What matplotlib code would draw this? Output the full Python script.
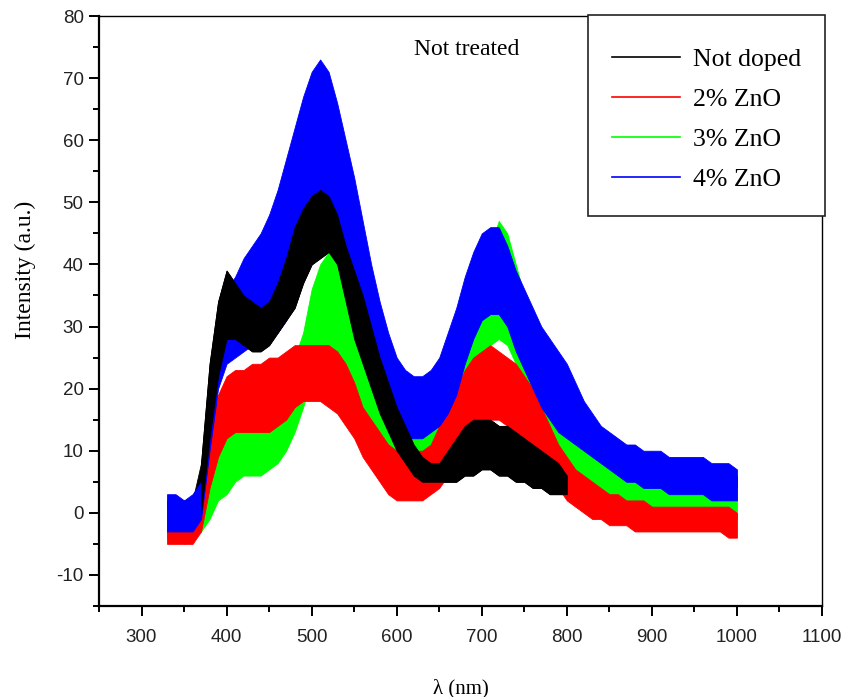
import numpy as np
import matplotlib.pyplot as plt
from matplotlib.patches import Rectangle
from matplotlib.ticker import MultipleLocator

# wavelength grid (nm) and visible band (low / high) of each noisy spectrum
wl = np.arange(330, 1001, 10)

black_lo = [-4, -4, -4, -4, 0, 12, 22, 28, 28, 27,
            26, 26, 27, 29, 31, 33, 37, 40, 41, 42,
            40, 34, 28, 24, 20, 16, 13, 10, 8, 6,
            5, 5, 5, 5, 5, 6, 6, 7, 7, 6,
            6, 5, 5, 4, 4, 3, 3, 3, 2, 2,
            2, 2, 2, 2, 2, 2, 2, 2, 2, 2,
            2, 2, 2, 2, 2, 2, 2, 2]
black_hi = [2, 2, 2, 2, 8, 24, 34, 39, 37, 35,
            34, 33, 34, 37, 41, 46, 49, 51, 52, 51,
            48, 43, 39, 35, 30, 25, 21, 17, 14, 11,
            9, 8, 8, 10, 12, 14, 15, 15, 15, 14,
            14, 13, 12, 11, 10, 9, 8, 6, 6, 6,
            6, 6, 6, 6, 6, 6, 6, 6, 6, 6,
            6, 6, 6, 6, 6, 6, 6, 6]

red_lo = [-5, -5, -5, -5, -3, 4, 9, 12, 13, 13,
          13, 13, 13, 14, 15, 17, 18, 18, 18, 17,
          16, 14, 12, 9, 7, 5, 3, 2, 2, 2,
          2, 3, 4, 6, 9, 12, 14, 15, 15, 15,
          14, 13, 12, 10, 8, 6, 4, 2, 1, 0,
          -1, -1, -2, -2, -2, -3, -3, -3, -3, -3,
          -3, -3, -3, -3, -3, -3, -4, -4]
red_hi = [1, 1, 0, 1, 4, 13, 19, 22, 23, 23,
          24, 24, 25, 25, 26, 27, 27, 27, 27, 27,
          26, 24, 21, 17, 15, 13, 11, 10, 10, 10,
          10, 11, 14, 17, 20, 23, 25, 26, 27, 26,
          25, 24, 22, 20, 17, 14, 11, 9, 7, 6,
          5, 4, 3, 3, 2, 2, 2, 1, 1, 1,
          1, 1, 1, 1, 1, 1, 1, 0]

green_lo = [-4, -4, -5, -4, -3, -1, 2, 3, 5, 6,
            6, 6, 7, 8, 10, 13, 17, 22, 24, 25,
            24, 21, 17, 15, 13, 11, 9, 8, 7, 7,
            7, 8, 9, 12, 16, 20, 23, 25, 27, 28,
            27, 24, 21, 18, 15, 12, 10, 8, 7, 5,
            4, 3, 2, 2, 1, 1, 1, 0, 0, 0,
            0, -1, -1, -1, -1, -1, -1, -1]
green_hi = [1, 1, 1, 1, 3, 6, 11, 15, 16, 17,
            18, 18, 18, 20, 22, 25, 29, 36, 40, 42,
            41, 37, 32, 28, 24, 20, 17, 15, 14, 13,
            13, 14, 16, 20, 25, 30, 34, 38, 43, 47,
            45, 40, 35, 30, 26, 22, 18, 15, 13, 11,
            9, 8, 7, 7, 6, 6, 6, 5, 5, 5,
            5, 5, 4, 4, 4, 4, 4, 4]

blue_lo = [-3, -3, -3, -3, -1, 10, 20, 24, 25, 26,
           27, 28, 28, 29, 31, 34, 38, 42, 45, 44,
           40, 36, 32, 28, 23, 18, 15, 13, 12, 12,
           12, 13, 14, 16, 19, 24, 28, 31, 32, 32,
           30, 26, 23, 20, 17, 15, 13, 12, 11, 10,
           9, 8, 7, 6, 5, 5, 4, 4, 4, 3,
           3, 3, 3, 3, 2, 2, 2, 2]
blue_hi = [3, 3, 2, 3, 5, 22, 32, 36, 38, 41,
           43, 45, 48, 52, 57, 62, 67, 71, 73, 71,
           66, 60, 54, 47, 40, 34, 29, 25, 23, 22,
           22, 23, 25, 29, 33, 38, 42, 45, 46, 46,
           43, 39, 36, 33, 30, 28, 26, 24, 21, 18,
           16, 14, 13, 12, 11, 11, 10, 10, 10, 9,
           9, 9, 9, 9, 8, 8, 8, 7]

labels = ['Not doped', '2% ZnO', '3% ZnO', '4% ZnO']
colors = ['black', '#ff0000', '#00ff00', '#0000ff']

plt.rcParams['font.family'] = 'Liberation Sans'
plt.rcParams['axes.unicode_minus'] = False
fig = plt.figure(figsize=(8.51, 6.97), dpi=100)
ax = fig.add_axes([0.1163, 0.1306, 0.8496, 0.8464])

ax.fill_between(wl, green_lo, green_hi, color=colors[2], lw=0.6, zorder=1)
ax.fill_between(wl, red_lo, red_hi, color=colors[1], lw=0.6, zorder=2)
ax.fill_between(wl, blue_lo, blue_hi, color=colors[3], lw=0.6, zorder=3)
ax.fill_between(wl, black_lo, black_hi, color=colors[0], lw=0.6, zorder=0.5)
on_top = (wl >= 370) & (wl <= 800)
ax.fill_between(wl, black_lo, black_hi, where=on_top,
                color=colors[0], lw=0.6, zorder=4)

for c, lab in zip(colors, labels):
    ax.plot([], [], color=c, lw=1.2, label=lab)

ax.set_xlim(250, 1100)
ax.set_ylim(-15, 80)
ax.xaxis.set_minor_locator(MultipleLocator(50))
ax.yaxis.set_minor_locator(MultipleLocator(5))
ax.set_xticks(range(300, 1101, 100))
ax.set_yticks(range(-10, 81, 10))
ax.tick_params(which='both', direction='out', width=1.4, top=False, right=False,
               labelsize=13.5, labelcolor='#222222')
ax.tick_params(which='major', length=7.5)
ax.tick_params(which='minor', length=4.5)
ax.tick_params(axis='x', pad=9)
for s in ['left', 'bottom']:
    ax.spines[s].set_linewidth(1.6)
for s in ['top', 'right']:
    ax.spines[s].set_linewidth(1.0)

ax.set_xlabel('λ (nm)', family='Liberation Serif', fontsize=15, labelpad=24)
ax.set_ylabel('Intensity (a.u.)', family='Liberation Serif', fontsize=17)
ax.yaxis.set_label_coords(-0.087, 0.569)
ax.text(620, 74.6, 'Not treated', family='Liberation Serif', fontsize=17, va='center')

# legend box drawn separately so its size matches the original
fig.patches.append(Rectangle((588 / 851, 1 - 216 / 697), 237 / 851, 201 / 697,
                             transform=fig.transFigure, facecolor='white',
                             edgecolor='#222222', linewidth=1.2, zorder=2))
handles, labs = ax.get_legend_handles_labels()
leg = fig.legend(handles, labs, loc='upper left',
                 bbox_to_anchor=(612 / 851, 1 - 48 / 697), frameon=False,
                 prop={'family': 'Liberation Serif', 'size': 18.5},
                 borderpad=0, labelspacing=0.66, handlelength=2.65,
                 handletextpad=0.5, borderaxespad=0)
leg.set_zorder(5)

fig.savefig('out.png', dpi=100)
